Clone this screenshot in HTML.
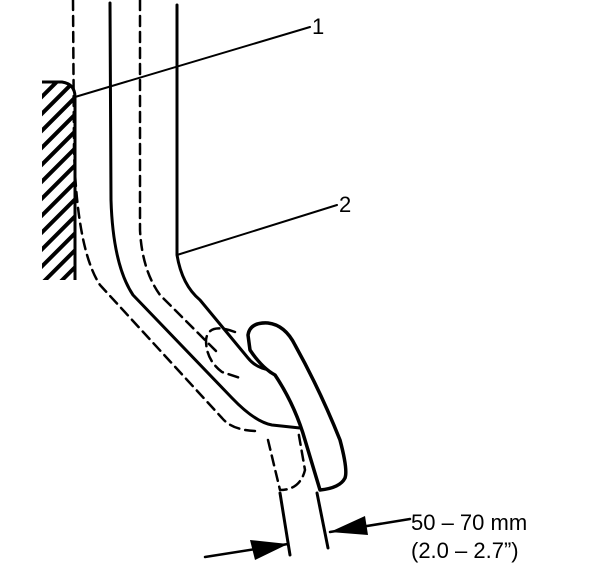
<!DOCTYPE html>
<html><head><style>html,body{margin:0;padding:0;background:#fff}svg{display:block}</style></head>
<body>
<svg width="608" height="576" viewBox="0 0 608 576" xmlns="http://www.w3.org/2000/svg">
<defs>
<pattern id="h" width="12" height="12" patternUnits="userSpaceOnUse" patternTransform="rotate(-45)">
<rect width="12" height="4" fill="#000"/>
</pattern>
</defs>
<!-- wall -->
<path d="M42,82 L62,82 Q75,84 75,97 L75,280 L42,280 Z" fill="url(#h)"/>
<path d="M42,82 L62,82 Q75,84 75,97 L75,280" fill="none" stroke="#000" stroke-width="3"/>
<g fill="none" stroke="#000" stroke-linecap="round" stroke-linejoin="round">
<!-- dashed arm -->
<g stroke-width="2.5" stroke-dasharray="10,6">
<path d="M73,0 L74,150 Q77,250 100,285 L222,418 Q232,430 255,431"/>
<path d="M140,0 L140,230 Q142,270 160,295 L220,355"/>
<path d="M235,332 Q208,322 206,340 Q206,360 222,372 L240,378"/>
<path d="M268,440 L280,490 Q300,490 305,470 L298,430"/>
</g>
<!-- solid arm -->
<path d="M110,3 L111,200 Q113,265 133,295 L232,398 Q255,422 272,425 L300,428" stroke-width="3"/>
<path d="M177,5 L177,255 Q182,285 200,300 L248,358 Q256,368 270,370" stroke-width="3"/>
<!-- pad -->
<path d="M248,335 Q250,322 268,323 Q285,325 295,345 Q320,390 340,440 Q348,470 345,478 Q340,488 320,490 Q314,470 305,440 Q295,405 275,375 Q262,368 250,350 Z" stroke-width="3.5" fill="#fff"/>
<!-- lower arm -->
<path d="M280,493 L290,555" stroke-width="3"/>
<path d="M317,493 L328,548" stroke-width="3"/>
<!-- leaders -->
<path d="M75,97 L310,27" stroke-width="2"/>
<path d="M177,255 L337,205" stroke-width="2"/>
<!-- dimension arrows -->
<path d="M205,557 L288,544" stroke-width="2.5"/>
<path d="M410,519 L330,532" stroke-width="2.5"/>
</g>
<polygon points="288,544 250,540 255,560" fill="#000"/>
<polygon points="330,532 365,516 368,535" fill="#000"/>
<g font-family="Liberation Sans, sans-serif" font-size="22" fill="#000">
<text x="312" y="34">1</text>
<text x="339" y="212">2</text>
<text x="411" y="530">50 – 70 mm</text>
<text x="411" y="558">(2.0 – 2.7”)</text>
</g>
</svg>
</body></html>
